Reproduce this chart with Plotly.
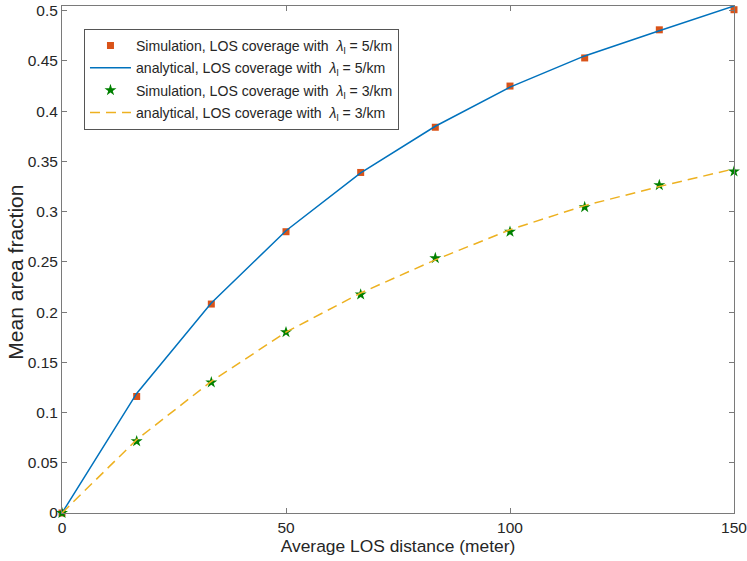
import plotly.graph_objects as go

# ---------------------------------------------
# data

dist = [0, 16.67, 33.33, 50, 66.67, 83.33, 100, 116.67, 133.33, 150]

sim5 = [0, 0.116, 0.208, 0.280, 0.339, 0.384, 0.425, 0.453, 0.481, 0.501]
ana5 = [0, 0.119, 0.209, 0.281, 0.3385, 0.385, 0.424, 0.455, 0.480, 0.5047]
sim3 = [0, 0.0714, 0.130, 0.180, 0.2175, 0.2537, 0.280, 0.3045, 0.3264, 0.340]
ana3 = [0, 0.073, 0.131, 0.180, 0.219, 0.252, 0.282, 0.306, 0.325, 0.3426]

names = ['Simulation, LOS coverage with  <i>λ</i><sub>l</sub> = 5/km',
         'analytical, LOS coverage with  <i>λ</i><sub>l</sub> = 5/km',
         'Simulation, LOS coverage with  <i>λ</i><sub>l</sub> = 3/km',
         'analytical, LOS coverage with  <i>λ</i><sub>l</sub> = 3/km']

xticks = [0, 50, 100, 150]
yticks = [0, 0.05, 0.1, 0.15, 0.2, 0.25, 0.3, 0.35, 0.4, 0.45, 0.5]
ytext = ['0', '0.05', '0.1', '0.15', '0.2', '0.25', '0.3', '0.35', '0.4', '0.45', '0.5']

#---------------------------------------------

fig = go.Figure()
fig.add_trace(go.Scatter(x=dist, y=sim5, name=names[0], mode='markers',
    marker={'symbol': 'square', 'size': 7, 'color': '#D95319'},
    legendgroup='a', cliponaxis=False))
fig.add_trace(go.Scatter(x=dist, y=ana5, name=names[1], mode='lines',
    line={'color': '#0072BD', 'width': 1.5}, legendgroup='b'))
fig.add_trace(go.Scatter(x=dist, y=sim3, name=names[2], mode='markers',
    marker={'symbol': 'star', 'size': 9, 'color': '#008000'},
    legendgroup='c', cliponaxis=False))
fig.add_trace(go.Scatter(x=dist, y=ana3, name=names[3], mode='lines',
    line={'color': '#EDB120', 'width': 1.5, 'dash': '10px,6px'}, legendgroup='d'))

axcol = '#7a7a7a'
fig.update_layout(
    width=747, height=561,
    margin={'l': 62, 'r': 13, 't': 6, 'b': 48, 'autoexpand': False},
    plot_bgcolor='white', paper_bgcolor='white',
    font={'family': 'Liberation Sans, Arial, sans-serif', 'size': 15.5, 'color': '#262626'},
    showlegend=True,
    legend={'x': 0.0327, 'y': 0.955, 'xanchor': 'left', 'yanchor': 'top',
            'bgcolor': 'white', 'bordercolor': '#555555', 'borderwidth': 1,
            'font': {'size': 14.1}, 'tracegroupgap': 1, 'traceorder': 'grouped',
            'itemwidth': 41},
)
fig.update_xaxes(range=[0, 150], tickvals=xticks, ticks='inside', ticklen=5,
    tickcolor=axcol, showline=True, linecolor=axcol, linewidth=1, mirror='ticks',
    showgrid=False, zeroline=False, automargin=False, ticklabeloverflow='allow',
    title={'text': 'Average LOS distance (meter)', 'standoff': 5, 'font': {'size': 17.4}},
    tickfont={'size': 15.5})
fig.update_yaxes(range=[0, 0.5047], tickvals=yticks, ticktext=ytext, ticks='inside',
    ticklen=5, tickcolor=axcol, showline=True, linecolor=axcol, linewidth=1,
    mirror='ticks', showgrid=False, zeroline=False, automargin=False,
    ticklabeloverflow='allow', tickfont={'size': 15.5})

# y label as annotation, it sits a bit below the middle in the original
fig.add_annotation(text='Mean area fraction', xref='paper', yref='paper',
    x=-0.0685, y=0.476, xanchor='center', yanchor='middle', textangle=-90,
    showarrow=False, font={'size': 21})

fig.write_html("out.html", config={'displayModeBar': False},
               post_script="document.body.style.margin='0';")
